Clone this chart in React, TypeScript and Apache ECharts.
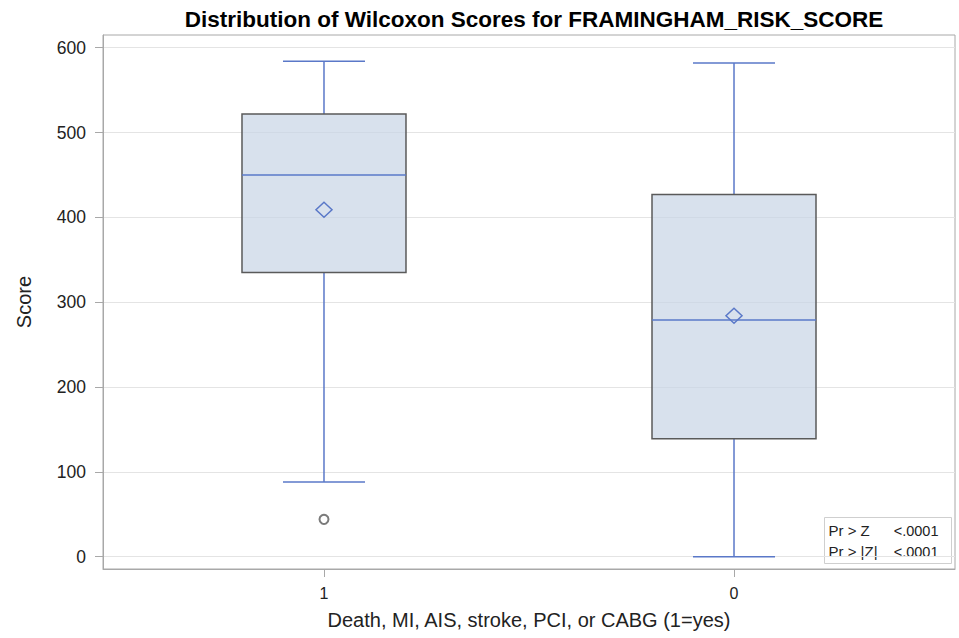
import React, { useEffect, useRef } from 'react';
import * as echarts from 'echarts';

const categories = ['1', '0'];
// [min, Q1, median, Q3, max]
const boxStats = [
  [88, 335, 450, 522, 584],
  [0, 139, 279, 427, 582],
];
const means = [409, 284];
// [categoryIndex, value]
const outliers = [[0, 44]];
const yTicks = [0, 100, 200, 300, 400, 500, 600];
const pValueLabels = ['Pr > Z', 'Pr > |Z|'];
const pValues = ['<.0001', '<.0001'];

const FONT = '"Liberation Sans", Arial, Helvetica, sans-serif';
const BLUE = '#5a78c8';
const DARK = '#5a5a5a';
const FRAME = '#a8a8a8';

export default function App() {
  const ref = useRef<HTMLDivElement>(null);
  useEffect(() => {
    if (!ref.current) return;
    const chart = echarts.init(ref.current, undefined, { renderer: 'svg' });
    const boxData = boxStats.map((s, i) => [i, ...s, means[i]]);
    const option: any = {
      animation: false,
      backgroundColor: '#ffffff',
      title: {
        text: 'Distribution of Wilcoxon Scores for FRAMINGHAM_RISK_SCORE',
        left: 529,
        textAlign: 'center',
        top: 3,
        textStyle: { fontFamily: FONT, fontSize: 22.5, fontWeight: 'bold', color: '#000' },
      },
      grid: {
        left: 103,
        right: 4,
        top: 35,
        bottom: 69,
        show: true,
        borderColor: FRAME,
        borderWidth: 1,
        backgroundColor: 'transparent',
      },
      xAxis: {
        type: 'value',
        min: -0.539,
        max: 1.539,
        name: 'Death, MI, AIS, stroke, PCI, or CABG (1=yes)',
        nameLocation: 'middle',
        nameGap: 41,
        nameTextStyle: { fontFamily: FONT, fontSize: 20, color: '#222' },
        axisLine: { show: true, onZero: false, lineStyle: { color: FRAME } },
        axisTick: { show: true, length: 8, customValues: [0, 1], lineStyle: { color: FRAME } },
        axisLabel: {
          customValues: [0, 1],
          formatter: (v: number) => categories[Math.round(v)] ?? '',
          margin: 16,
          fontFamily: FONT,
          fontSize: 16,
          color: '#222',
        },
        splitLine: { show: false },
      },
      yAxis: {
        type: 'value',
        min: -14.5,
        max: 615,
        name: 'Score',
        nameLocation: 'middle',
        nameGap: 69,
        nameTextStyle: { fontFamily: FONT, fontSize: 20, color: '#222' },
        axisLine: { show: true, onZero: false, lineStyle: { color: FRAME } },
        axisTick: { show: true, length: 8, customValues: yTicks, lineStyle: { color: FRAME } },
        axisLabel: {
          customValues: yTicks,
          margin: 17,
          fontFamily: FONT,
          fontSize: 17.5,
          color: '#222',
        },
        splitLine: { show: true, lineStyle: { color: '#e4e4e4', width: 1 } },
      },
      series: [
        {
          type: 'custom',
          data: boxData,
          renderItem: (params: any, api: any) => {
            const x = api.value(0);
            const pMin = api.coord([x, api.value(1)]);
            const pQ1 = api.coord([x, api.value(2)]);
            const pMed = api.coord([x, api.value(3)]);
            const pQ3 = api.coord([x, api.value(4)]);
            const pMax = api.coord([x, api.value(5)]);
            const pMean = api.coord([x, api.value(6)]);
            const cx = pMin[0];
            const hw = 82;
            const cw = 41;
            const ls = { stroke: BLUE, lineWidth: 1.5, fill: 'none' };
            return {
              type: 'group',
              children: [
                { type: 'line', shape: { x1: cx, y1: pQ3[1], x2: cx, y2: pMax[1] }, style: ls },
                { type: 'line', shape: { x1: cx - cw, y1: pMax[1], x2: cx + cw, y2: pMax[1] }, style: ls },
                { type: 'line', shape: { x1: cx, y1: pQ1[1], x2: cx, y2: pMin[1] }, style: ls },
                { type: 'line', shape: { x1: cx - cw, y1: pMin[1], x2: cx + cw, y2: pMin[1] }, style: ls },
                {
                  type: 'rect',
                  shape: { x: cx - hw, y: pQ3[1], width: hw * 2, height: pQ1[1] - pQ3[1] },
                  style: { fill: 'rgba(200,212,230,0.7)', stroke: DARK, lineWidth: 1.5 },
                },
                { type: 'line', shape: { x1: cx - hw, y1: pMed[1], x2: cx + hw, y2: pMed[1] }, style: ls },
                {
                  type: 'polygon',
                  shape: {
                    points: [
                      [cx, pMean[1] - 7.5],
                      [cx + 8, pMean[1]],
                      [cx, pMean[1] + 7.5],
                      [cx - 8, pMean[1]],
                    ],
                  },
                  style: { stroke: BLUE, lineWidth: 1.5, fill: 'none' },
                },
              ],
            };
          },
        },
        {
          type: 'scatter',
          data: outliers,
          symbol: 'emptyCircle',
          symbolSize: 9,
          itemStyle: { color: DARK, borderColor: DARK, borderWidth: 1.2 },
        },
      ],
      graphic: [
        {
          type: 'group',
          left: 824,
          top: 517,
          children: [
            {
              type: 'rect',
              shape: { x: 0, y: 0, width: 127, height: 46 },
              style: { fill: '#ffffff', stroke: '#cfcfcf', lineWidth: 1 },
            },
            ...pValueLabels.map((t, i) => ({
              type: 'text',
              x: 4,
              y: 13 + i * 21,
              style: { text: t, fontFamily: FONT, fontSize: 15, fill: '#222', verticalAlign: 'middle' },
            })),
            ...pValues.map((t, i) => ({
              type: 'text',
              x: 114,
              y: 13 + i * 21,
              style: { text: t, fontFamily: FONT, fontSize: 14.5, fill: '#222', verticalAlign: 'middle', align: 'right' },
            })),
          ],
        },
      ],
    };
    chart.setOption(option);
    return () => chart.dispose();
  }, []);
  return (
    <div
      ref={ref}
      style={{ position: 'fixed', left: 0, top: 0, width: 959, height: 638, background: '#fff' }}
    />
  );
}
